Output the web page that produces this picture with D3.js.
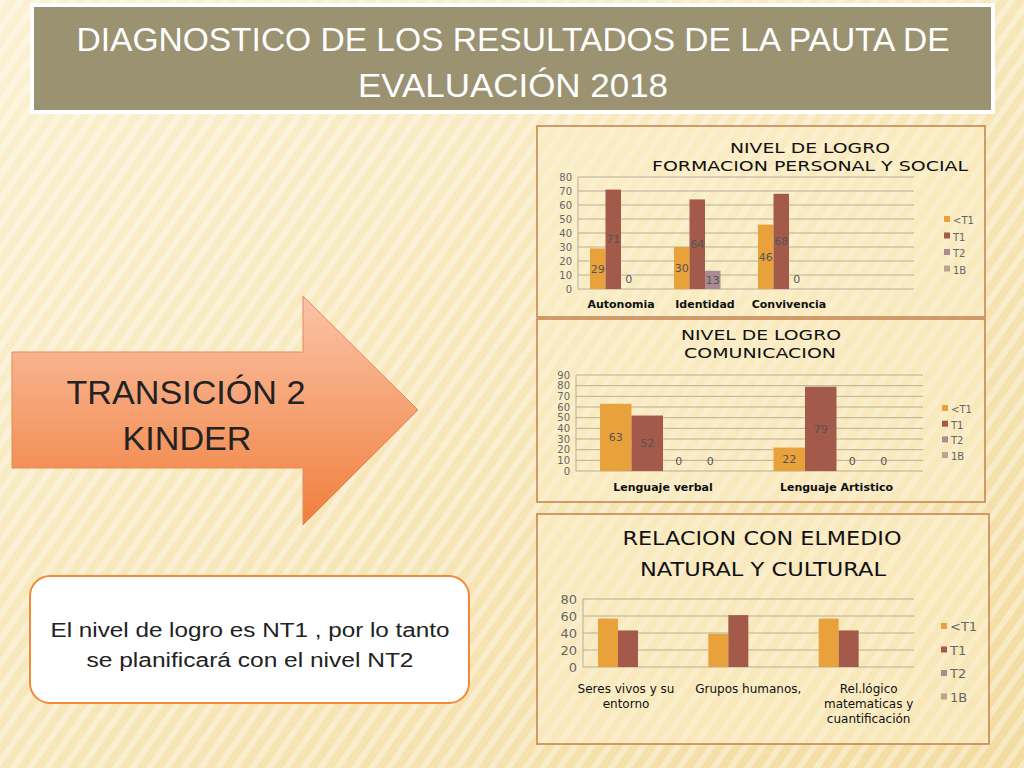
<!DOCTYPE html>
<html><head><meta charset="utf-8">
<script src="https://cdn.jsdelivr.net/npm/d3@7"></script>
<style>body{margin:0;background:#fff}</style>
</head><body><div id="vis"></div>
<script>
var w = 1024, h = 768;
var series = ["<T1", "T1", "T2", "1B"];
var colors = ["#E9A13B", "#A35A4B", "#A98A90", "#BCA48C"];

// Chart 1: formacion personal y social
var cats1 = ["Autonomia", "Identidad", "Convivencia", ""];
var vals1 = [[29, 71, 0, null], [30, 64, 13, null], [46, 68, 0, null]];
// Chart 2: comunicacion
var cats2 = ["Lenguaje verbal", "Lenguaje Artistico"];
var vals2 = [[63, 52, 0, 0], [22, 79, 0, 0]];
// Chart 3: relacion con el medio
var cats3 = [["Seres vivos y su", "entorno"], ["Grupos humanos,"], ["Rel.lógico", "matematicas y", "cuantificación"]];
var vals3 = [[57, 43, null, null], [39, 61, null, null], [57, 43, null, null]];

var svg = d3.select("#vis").append("svg").attr("width", w).attr("height", h);
var defs = svg.append("defs");

// stretched text line helper
function line(sel, x, y, txt, len) {
  var t = sel.append("tspan").attr("x", x).attr("y", y).text(txt);
  if (len) t.attr("textLength", len).attr("lengthAdjust", "spacingAndGlyphs");
  return t;
}

// background
var bg = defs.append("linearGradient").attr("id", "bg").attr("x1", 0).attr("y1", 0).attr("x2", 1).attr("y2", 1);
bg.append("stop").attr("offset", 0).attr("stop-color", "#FBF1D2");
bg.append("stop").attr("offset", 1).attr("stop-color", "#F3DCA0");
svg.append("rect").attr("width", w).attr("height", h).attr("fill", "url(#bg)");
var pat = defs.append("pattern").attr("id", "stripes").attr("width", 14).attr("height", 14)
  .attr("patternUnits", "userSpaceOnUse").attr("patternTransform", "rotate(35)");
pat.append("rect").attr("width", 6).attr("height", 14).attr("fill", "#fff").attr("opacity", 0.35);
svg.append("rect").attr("width", w).attr("height", h).attr("fill", "url(#stripes)");

// header
svg.append("rect").attr("x", 32).attr("y", 5).attr("width", 961).attr("height", 107)
  .attr("fill", "#9B9272").attr("stroke", "#fff").attr("stroke-width", 4);
var hd = svg.append("text").attr("text-anchor", "middle").attr("fill", "#fff")
  .style("font-family", "'Liberation Sans', sans-serif").style("font-size", "34px");
line(hd, 513, 51, "DIAGNOSTICO DE LOS RESULTADOS DE LA PAUTA DE", 873);
line(hd, 513, 97, "EVALUACIÓN 2018", 310);

// arrow
var ag = defs.append("linearGradient").attr("id", "arr").attr("x1", 0).attr("y1", 0).attr("x2", 0).attr("y2", 1);
ag.append("stop").attr("offset", 0).attr("stop-color", "#FBC3A8");
ag.append("stop").attr("offset", 1).attr("stop-color", "#F07F3C");
svg.append("path").attr("d", "M12,352 L303,352 L303,296 L418,410 L303,525 L303,468 L12,468 Z")
  .attr("fill", "url(#arr)").attr("stroke", "#E6895A").attr("stroke-width", 1);
var at = svg.append("text").attr("text-anchor", "middle").attr("fill", "#222")
  .style("font-family", "'Liberation Sans', sans-serif").style("font-size", "34px");
line(at, 186, 404, "TRANSICIÓN 2", 239);
line(at, 187, 450, "KINDER", 129);

// note box
svg.append("rect").attr("x", 30).attr("y", 576).attr("width", 439).attr("height", 127).attr("rx", 20)
  .attr("fill", "#fff").attr("stroke", "#EE8A3A").attr("stroke-width", 2);
var nt = svg.append("text").attr("text-anchor", "middle").attr("fill", "#222")
  .style("font-family", "'Liberation Sans', sans-serif").style("font-size", "20px");
line(nt, 250, 637, "El nivel de logro es  NT1 , por lo tanto", 399);
line(nt, 250, 667, "se planificará con el nivel NT2", 327);

function chart(o) {
  var g = svg.append("g");
  g.append("rect").attr("x", o.box[0]).attr("y", o.box[1]).attr("width", o.box[2]).attr("height", o.box[3])
    .attr("fill", "#FBEFC8").attr("fill-opacity", 0.55).attr("stroke", "#C2804E").attr("stroke-width", 1.5);
  var tt = g.append("text").attr("text-anchor", "middle").attr("fill", "#111")
    .style("font-family", "'DejaVu Sans', sans-serif").style("font-size", o.tsize + "px")
    .style("font-weight", o.tbold ? "bold" : "normal");
  o.title.forEach(function (t, i) {
    line(tt, o.tx[i], o.ty + i * o.tgap, t, o.tlen[i]);
  });
  var y = d3.scaleLinear().domain([0, o.max]).range([o.base, o.top]);
  var x = d3.scaleBand().domain(d3.range(o.ncat)).range([o.x0, o.x1]);
  var xs = d3.scaleBand().domain(series).range([0, o.bw * 4]);
  g.selectAll(".grid").data(y.ticks(o.max / o.step)).enter().append("line")
    .attr("x1", o.x0).attr("x2", o.x1).attr("y1", y).attr("y2", y)
    .attr("stroke", "#B8AE98").attr("stroke-width", 1);
  g.append("line").attr("x1", o.x0).attr("x2", o.x0).attr("y1", o.base).attr("y2", o.top).attr("stroke", "#B8AE98");
  var ax = g.append("g").attr("transform", "translate(" + o.x0 + ",0)")
    .call(d3.axisLeft(y).ticks(o.max / o.step).tickSize(0).tickPadding(6));
  ax.select(".domain").remove();
  ax.selectAll("text").attr("fill", "#666").style("font-family", "'DejaVu Sans', sans-serif").style("font-size", o.ysize + "px");
  o.vals.forEach(function (vs, ci) {
    vs.forEach(function (v, si) {
      if (v === null) return;
      var bx = x(ci) + o.off + xs(series[si]);
      if (v > 0) g.append("rect").attr("x", bx).attr("y", y(v)).attr("width", xs.bandwidth())
        .attr("height", o.base - y(v)).attr("fill", colors[si]);
      if (o.labels) g.append("text").attr("x", bx + xs.bandwidth() / 2)
        .attr("y", v > 0 ? (y(v) + o.base) / 2 + 4 : o.base - 6).attr("text-anchor", "middle")
        .attr("fill", "#555").style("font-family", "'DejaVu Sans', sans-serif").style("font-size", "11px").text(v);
    });
  });
  o.cats.forEach(function (c, ci) {
    var lines = Array.isArray(c) ? c : [c];
    var t = g.append("text").attr("text-anchor", "middle").attr("fill", "#111")
      .style("font-family", "'DejaVu Sans', sans-serif").style("font-size", o.csize + "px")
      .style("font-weight", o.cbold ? "bold" : "normal");
    lines.forEach(function (l, li) {
      t.append("tspan").attr("x", x(ci) + o.off + o.bw * 2 + (o.cdx ? o.cdx[ci] : 0))
        .attr("y", o.cy + li * (o.csize + 3)).text(l);
    });
  });
  series.forEach(function (s, i) {
    var ly = o.ly + i * o.lgap;
    g.append("rect").attr("x", o.lx).attr("y", ly - 5).attr("width", 6).attr("height", 6).attr("fill", colors[i]);
    g.append("text").attr("x", o.lx + 9).attr("y", ly + 3).attr("fill", "#666")
      .style("font-family", "'DejaVu Sans', sans-serif").style("font-size", o.lsize + "px").text(s);
  });
}

chart({box: [537, 126, 448, 191], title: ["NIVEL DE LOGRO", "FORMACION PERSONAL Y SOCIAL"], tx: [810, 810], tlen: [160, 316],
  ty: 153, tgap: 18, tsize: 14, tbold: false, max: 80, step: 10, base: 289, top: 177, x0: 578, x1: 914, ncat: 4, bw: 15.5, off: 12,
  vals: vals1, cats: cats1, labels: true, ysize: 10, csize: 11, cbold: true, cy: 308,
  lx: 944, ly: 221, lgap: 16.5, lsize: 10});
chart({box: [537, 319, 448, 183], title: ["NIVEL DE LOGRO", "COMUNICACION"], tx: [761, 760], tlen: [160, 152],
  ty: 340, tgap: 18, tsize: 14, tbold: false, max: 90, step: 10, base: 471, top: 375, x0: 576, x1: 923, ncat: 2, bw: 31.5, off: 24,
  vals: vals2, cats: cats2, labels: true, ysize: 10, csize: 11, cbold: true, cy: 491,
  lx: 942, ly: 410, lgap: 15.7, lsize: 10});
chart({box: [537, 514, 452, 230], title: ["RELACION CON ELMEDIO", "NATURAL Y CULTURAL"], tx: [762, 763], tlen: [279, 246],
  ty: 545, tgap: 31, tsize: 20, tbold: false, max: 80, step: 20, base: 667, top: 599, x0: 583, x1: 914, ncat: 3, bw: 20, off: 15,
  vals: vals3, cats: cats3, labels: false, ysize: 13, csize: 12, cbold: false, cy: 693, cdx: [-12, 0, 10],
  lx: 941, ly: 628, lgap: 23.5, lsize: 13});
</script></body></html>
